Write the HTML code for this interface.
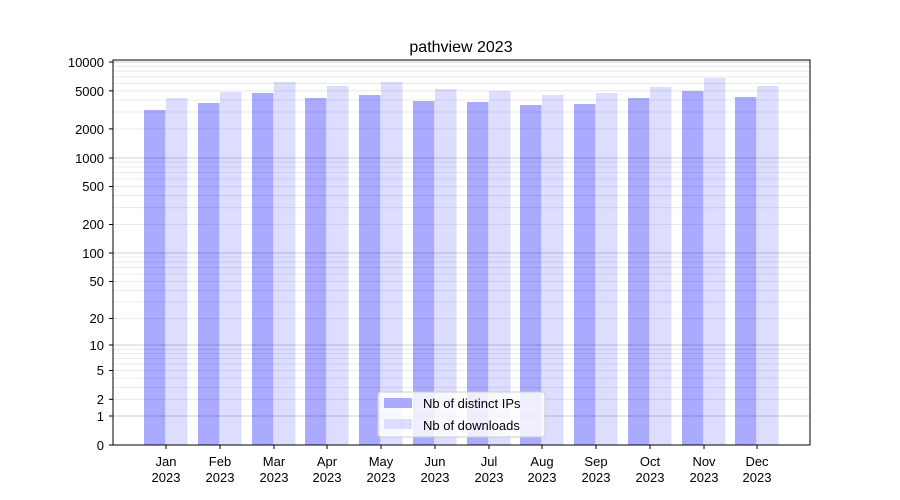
<!DOCTYPE html>
<html><head><style>body{margin:0;background:#fff}svg{display:block}text{font-family:"Liberation Sans","DejaVu Sans",sans-serif;fill:#000}</style></head><body>
<svg width="900" height="500" viewBox="0 0 900 500">
<rect width="900" height="500" fill="#fff"/>
<g>
<rect x="144" y="110" width="21.5" height="335" fill="#aaaaff"/><rect x="166" y="98" width="21.5" height="347" fill="#ddddff"/>
<rect x="198" y="103" width="21.5" height="342" fill="#aaaaff"/><rect x="220" y="92" width="21.5" height="353" fill="#ddddff"/>
<rect x="252" y="93" width="21.5" height="352" fill="#aaaaff"/><rect x="274" y="82" width="21.5" height="363" fill="#ddddff"/>
<rect x="305" y="98" width="21.5" height="347" fill="#aaaaff"/><rect x="327" y="86" width="21.5" height="359" fill="#ddddff"/>
<rect x="359" y="95" width="21.5" height="350" fill="#aaaaff"/><rect x="381" y="82" width="21.5" height="363" fill="#ddddff"/>
<rect x="413" y="101" width="21.5" height="344" fill="#aaaaff"/><rect x="435" y="89" width="21.5" height="356" fill="#ddddff"/>
<rect x="467" y="102" width="21.5" height="343" fill="#aaaaff"/><rect x="489" y="91" width="21.5" height="354" fill="#ddddff"/>
<rect x="520" y="105" width="21.5" height="340" fill="#aaaaff"/><rect x="542" y="95" width="21.5" height="350" fill="#ddddff"/>
<rect x="574" y="104" width="21.5" height="341" fill="#aaaaff"/><rect x="596" y="93" width="21.5" height="352" fill="#ddddff"/>
<rect x="628" y="98" width="21.5" height="347" fill="#aaaaff"/><rect x="650" y="87" width="21.5" height="358" fill="#ddddff"/>
<rect x="682" y="91" width="21.5" height="354" fill="#aaaaff"/><rect x="704" y="78" width="21.5" height="367" fill="#ddddff"/>
<rect x="735" y="97" width="21.5" height="348" fill="#aaaaff"/><rect x="757" y="86" width="21.5" height="359" fill="#ddddff"/>
</g>
<g stroke="#000" stroke-opacity="0.1" stroke-width="0.8">
<line x1="113" x2="810" y1="399.3" y2="399.3"/><line x1="113" x2="810" y1="387.4" y2="387.4"/><line x1="113" x2="810" y1="378" y2="378"/><line x1="113" x2="810" y1="370.5" y2="370.5"/><line x1="113" x2="810" y1="364" y2="364"/><line x1="113" x2="810" y1="358.5" y2="358.5"/><line x1="113" x2="810" y1="353.6" y2="353.6"/><line x1="113" x2="810" y1="349.3" y2="349.3"/>
<line x1="113" x2="810" y1="318.4" y2="318.4"/><line x1="113" x2="810" y1="302" y2="302"/><line x1="113" x2="810" y1="290.6" y2="290.6"/><line x1="113" x2="810" y1="281.5" y2="281.5"/><line x1="113" x2="810" y1="274" y2="274"/><line x1="113" x2="810" y1="267.7" y2="267.7"/><line x1="113" x2="810" y1="262" y2="262"/><line x1="113" x2="810" y1="257" y2="257"/>
<line x1="113" x2="810" y1="224.5" y2="224.5"/><line x1="113" x2="810" y1="207.7" y2="207.7"/><line x1="113" x2="810" y1="195.7" y2="195.7"/><line x1="113" x2="810" y1="186.5" y2="186.5"/><line x1="113" x2="810" y1="179" y2="179"/><line x1="113" x2="810" y1="172.5" y2="172.5"/><line x1="113" x2="810" y1="167" y2="167"/><line x1="113" x2="810" y1="162" y2="162"/>
<line x1="113" x2="810" y1="128.9" y2="128.9"/><line x1="113" x2="810" y1="112" y2="112"/><line x1="113" x2="810" y1="100" y2="100"/><line x1="113" x2="810" y1="90.8" y2="90.8"/><line x1="113" x2="810" y1="83.3" y2="83.3"/><line x1="113" x2="810" y1="76.8" y2="76.8"/><line x1="113" x2="810" y1="71.2" y2="71.2"/><line x1="113" x2="810" y1="66.3" y2="66.3"/>
</g>
<g stroke="#000" stroke-opacity="0.25" stroke-width="0.8">
<line x1="113" x2="810" y1="416" y2="416"/><line x1="113" x2="810" y1="345" y2="345"/><line x1="113" x2="810" y1="253" y2="253"/><line x1="113" x2="810" y1="158" y2="158"/><line x1="113" x2="810" y1="62" y2="62"/>
</g>
<rect x="113" y="60" width="697" height="385" fill="none" stroke="#000" stroke-width="1"/>
<g stroke="#000" stroke-width="1">
<line x1="109" x2="113" y1="445" y2="445"/><line x1="109" x2="113" y1="416" y2="416"/><line x1="109" x2="113" y1="399.3" y2="399.3"/><line x1="109" x2="113" y1="370.5" y2="370.5"/><line x1="109" x2="113" y1="345" y2="345"/><line x1="109" x2="113" y1="318.4" y2="318.4"/><line x1="109" x2="113" y1="281.5" y2="281.5"/><line x1="109" x2="113" y1="253" y2="253"/><line x1="109" x2="113" y1="224.5" y2="224.5"/><line x1="109" x2="113" y1="186.5" y2="186.5"/><line x1="109" x2="113" y1="158" y2="158"/><line x1="109" x2="113" y1="128.9" y2="128.9"/><line x1="109" x2="113" y1="90.8" y2="90.8"/><line x1="109" x2="113" y1="62" y2="62"/>
<line x1="166" x2="166" y1="445" y2="449"/><line x1="220" x2="220" y1="445" y2="449"/><line x1="274" x2="274" y1="445" y2="449"/><line x1="327" x2="327" y1="445" y2="449"/><line x1="381" x2="381" y1="445" y2="449"/><line x1="435" x2="435" y1="445" y2="449"/><line x1="489" x2="489" y1="445" y2="449"/><line x1="542" x2="542" y1="445" y2="449"/><line x1="596" x2="596" y1="445" y2="449"/><line x1="650" x2="650" y1="445" y2="449"/><line x1="704" x2="704" y1="445" y2="449"/><line x1="757" x2="757" y1="445" y2="449"/>
</g>
<g font-size="13" text-anchor="end">
<text x="104" y="450">0</text><text x="104" y="421">1</text><text x="104" y="404">2</text><text x="104" y="375">5</text><text x="104" y="350">10</text><text x="104" y="323">20</text><text x="104" y="286">50</text><text x="104" y="258">100</text><text x="104" y="229">200</text><text x="104" y="191">500</text><text x="104" y="163">1000</text><text x="104" y="134">2000</text><text x="104" y="96">5000</text><text x="104" y="67">10000</text>
</g>
<g font-size="13" text-anchor="middle">
<text x="166" y="466">Jan</text><text x="166" y="482">2023</text>
<text x="220" y="466">Feb</text><text x="220" y="482">2023</text>
<text x="274" y="466">Mar</text><text x="274" y="482">2023</text>
<text x="327" y="466">Apr</text><text x="327" y="482">2023</text>
<text x="381" y="466">May</text><text x="381" y="482">2023</text>
<text x="435" y="466">Jun</text><text x="435" y="482">2023</text>
<text x="489" y="466">Jul</text><text x="489" y="482">2023</text>
<text x="542" y="466">Aug</text><text x="542" y="482">2023</text>
<text x="596" y="466">Sep</text><text x="596" y="482">2023</text>
<text x="650" y="466">Oct</text><text x="650" y="482">2023</text>
<text x="704" y="466">Nov</text><text x="704" y="482">2023</text>
<text x="757" y="466">Dec</text><text x="757" y="482">2023</text>
</g>
<text x="461" y="52" font-size="16" text-anchor="middle">pathview 2023</text>
<rect x="378" y="392" width="167" height="45" rx="3" fill="#fff" fill-opacity="0.8" stroke="#ccc"/>
<rect x="384" y="398" width="28" height="10" fill="#aaaaff"/>
<rect x="384" y="419" width="28" height="10" fill="#ddddff"/>
<text x="423" y="408" font-size="13">Nb of distinct IPs</text>
<text x="423" y="430" font-size="13">Nb of downloads</text>
</svg>
</body></html>
